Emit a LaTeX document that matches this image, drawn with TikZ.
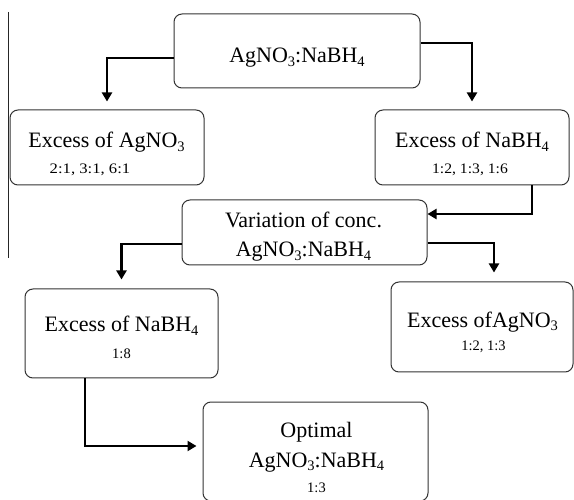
\documentclass[tikz,border=0pt]{standalone}
\usepackage{fontspec}
\setmainfont{Liberation Serif}
\usetikzlibrary{arrows.meta,calc}
\newcommand{\mysub}[1]{\raisebox{-3.5pt}{\fontsize{14.5}{15}\selectfont #1}}
\begin{document}
\begin{tikzpicture}[x=1pt,y=-1pt,
  box/.style={draw=black!80, line width=1pt, rounded corners=8pt, fill=white, inner sep=0pt},
  big/.style={font=\fontsize{22}{26}\selectfont, inner sep=0pt},
  small/.style={font=\fontsize{14.5}{16}\selectfont, inner sep=0pt},
  arr/.style={line width=2.8pt, -{Triangle[length=9pt,width=10pt]}}]
\useasboundingbox (0,0) rectangle (574,500);
% left rule
\draw[line width=0.9pt, black!85] (8,12) -- (8,258);
% boxes
\node[box, minimum width=246pt, minimum height=74pt] (top) at (297,51) {};
\node[box, minimum width=194pt, minimum height=75pt] (A) at (107,147.5) {};
\node[box, minimum width=194pt, minimum height=75pt] (B) at (472,147.5) {};
\node[box, minimum width=245pt, minimum height=65pt] (C) at (304.5,232.5) {};
\node[box, minimum width=193pt, minimum height=89pt] (D) at (121.5,333.5) {};
\node[box, minimum width=182pt, minimum height=90pt] (E) at (482,327) {};
\node[box, minimum width=225pt, minimum height=99pt] (F) at (315.5,451.5) {};
% texts
\node[big, anchor=base] (toptxt) at (297,63) {AgNO\mysub{3}:NaBH\mysub{4}};
\node[big, anchor=base] (Atxt) at (106.5,148) {Excess of AgNO\mysub{3}};
\node[small, anchor=base] (Anum) at (90,174) {\scalebox{1.15}[1]{2:1, 3:1, 6:1}};
\node[big, anchor=base] (Btxt) at (472,148) {Excess of NaBH\mysub{4}};
\node[small, anchor=base] (Bnum) at (470,174) {\scalebox{1.08}[1]{1:2, 1:3, 1:6}};
\node[big, anchor=base] (Ctxt1) at (303.5,228) {Variation of conc.};
\node[big, anchor=base] (Ctxt2) at (303.5,257) {AgNO\mysub{3}:NaBH\mysub{4}};
\node[big, anchor=base] (Dtxt) at (121.5,332) {Excess of NaBH\mysub{4}};
\node[small, anchor=base] (Dnum) at (121.5,359) {1:8};
\node[big, anchor=base] (Etxt) at (482.5,327) {Excess ofAgNO\mysub{3}};
\node[small, anchor=base] (Enum) at (483.5,351) {1:2, 1:3};
\node[big, anchor=base] (Ftxt1) at (316.5,438) {Optimal};
\node[big, anchor=base] (Ftxt2) at (316.5,467) {AgNO\mysub{3}:NaBH\mysub{4}};
\node[small, anchor=base] (Fnum) at (316.5,492) {1:3};
% connectors
\coordinate (f6) at (F.west |- 0,446);
\draw[arr] (top.west |- 0,58) -| ($(A.north)+(0,-8)$);
\draw[arr] (top.east |- 0,43) -| ($(B.north)+(0,-8)$);
\draw[arr] (B.south -| 532,0) |- (C.east |- 0,214);
\draw[arr] (C.west |- 0,244) -| ($(D.north)+(0,-9)$);
\draw[arr] (C.east |- 0,243) -| ($(E.north)+(12,-9)$);
\draw[arr] (D.south -| 85,0) |- ($(f6)+(-6,0)$);
\end{tikzpicture}
\end{document}
